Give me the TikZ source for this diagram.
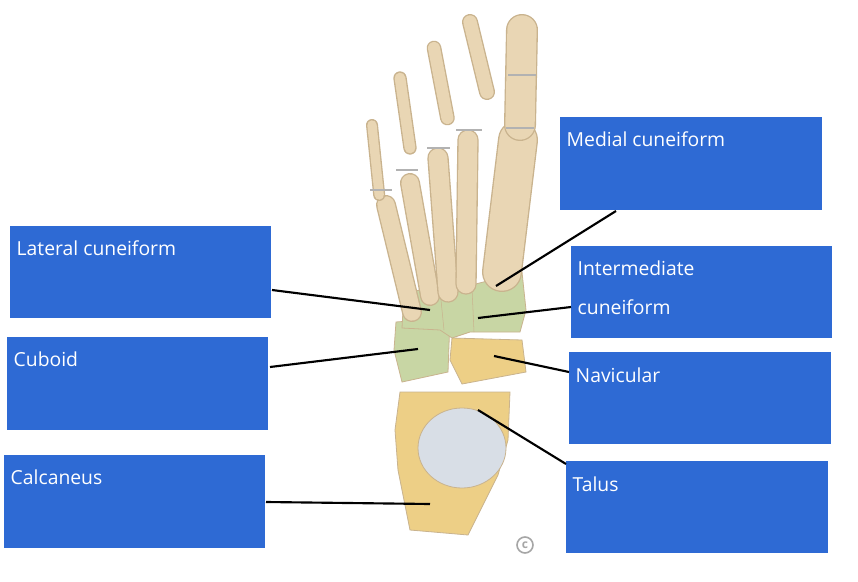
\documentclass[tikz,border=0pt]{standalone}
\usepackage{fontspec}
\setmainfont{Open Sans}
\begin{document}
\begin{tikzpicture}[x=0.75pt,y=-0.75pt,
  lbl/.style={fill=boxblue,draw=none},
  lt/.style={text=white,anchor=west,font=\fontsize{14.5}{16}\selectfont},
  ptr/.style={draw=black,line width=1.6pt},
  bone/.style={line cap=round,draw=boneout},
  bonefill/.style={draw=boneout,line width=0.6pt}]
\definecolor{boxblue}{HTML}{2E6AD4}
\definecolor{bonec}{HTML}{E9D6B4}
\definecolor{boneout}{HTML}{C9B38E}
\definecolor{greenb}{HTML}{C8D6A4}
\definecolor{yellowb}{HTML}{EDCF86}
\definecolor{talusc}{HTML}{D8DEE6}
\useasboundingbox (0,0) rectangle (858,582);
\fill[white] (0,0) rectangle (858,582);
% calcaneus
\filldraw[bonefill,fill=yellowb] (400,392) -- (510,392) -- (508,440) -- (498,475) -- (468,535) -- (410,530) -- (398,470) -- (395,430) -- cycle;
% talus
\filldraw[bonefill,fill=talusc] (462,448) ellipse (44 and 40);
% cuboid
\filldraw[bonefill,fill=greenb] (396,322) -- (450,318) -- (448,372) -- (402,382) -- (394,350) -- cycle;
% navicular
\filldraw[bonefill,fill=yellowb] (452,338) -- (522,340) -- (526,372) -- (462,384) -- (450,360) -- cycle;
% cuneiforms
\filldraw[bonefill,fill=greenb] (404,292) -- (440,288) -- (468,286) -- (522,272) -- (526,310) -- (520,332) -- (470,332) -- (452,338) -- (440,330) -- (402,328) -- cycle;
\draw[boneout] (440,290)--(444,330) (472,288)--(474,332);
% metatarsals
\draw[bone,line width=15pt] (386,205) -- (412,312);
\draw[bone,bonec,line width=13pt] (386,205) -- (412,312);
\draw[bone,line width=15pt] (410,183) -- (430,296);
\draw[bone,bonec,line width=13pt] (410,183) -- (430,296);
\draw[bone,line width=16pt] (438,158) -- (448,292);
\draw[bone,bonec,line width=14pt] (438,158) -- (448,292);
\draw[bone,line width=16pt] (468,140) -- (466,284);
\draw[bone,bonec,line width=14pt] (468,140) -- (466,284);
\draw[bone,line width=30pt] (518,140) -- (502,272);
\draw[bone,bonec,line width=28pt] (518,140) -- (502,272);
% phalanges
\foreach \a/\b/\w in {372/125/9, 400/78/10, 434/48/11, 470/22/12}{
  \draw[bone,line width=\w pt] (\a,\b) -- ({\a+(\a-360)*0.1+6},{\b+70});
  \draw[bone,bonec,line width=\w pt-2pt] (\a,\b) -- ({\a+(\a-360)*0.1+6},{\b+70});
}
\draw[bone,line width=24pt] (522,30) -- (520,125);
\draw[bone,bonec,line width=22pt] (522,30) -- (520,125);
\draw[gray!60,line width=1pt] (508,75)--(536,75) (506,128)--(534,128) (456,130)--(482,130) (427,148)--(450,148) (396,170)--(418,170) (370,190)--(392,190);
% copyright
\draw[gray!70,line width=1.2pt] (525,545) circle (8);
\node[gray!70,font=\bfseries\small] at (525,545) {c};
% boxes
\fill[lbl] (560,117) rectangle (822,210);
\fill[lbl] (10,226) rectangle (271,318);
\fill[lbl] (571,246) rectangle (832,338);
\fill[lbl] (7,337) rectangle (268,430);
\fill[lbl] (569,352) rectangle (831,444);
\fill[lbl] (4,455) rectangle (265,548);
\fill[lbl] (566,461) rectangle (828,553);
\node[lt] (m) at (562,139) {Medial cuneiform};
\node[lt] (l) at (12,248) {Lateral cuneiform};
\node[lt] (i) at (573,268) {Intermediate};
\node[lt] (i2) at (573,307) {cuneiform};
\node[lt] (c) at (9,359) {Cuboid};
\node[lt] (n) at (571,375) {Navicular};
\node[lt] (ca) at (6,477) {Calcaneus};
\node[lt] (t) at (568,484) {Talus};
% pointers
\coordinate (m1) at (616,211); \coordinate (m2) at (496,286);
\coordinate (l1) at (272,290); \coordinate (l2) at (430,310);
\coordinate (i1) at (571,307); \coordinate (i3) at (478,318);
\coordinate (c1) at (270,367); \coordinate (c2) at (418,349);
\coordinate (n1) at (569,372); \coordinate (n2) at (494,356);
\coordinate (t1) at (566,464); \coordinate (t2) at (478,410);
\coordinate (a1) at (266,502); \coordinate (a2) at (430,504);
\draw[ptr] (m1)--(m2); \draw[ptr] (l1)--(l2); \draw[ptr] (i1)--(i3);
\draw[ptr] (c1)--(c2); \draw[ptr] (n1)--(n2); \draw[ptr] (t1)--(t2);
\draw[ptr] (a1)--(a2);
\end{tikzpicture}
\end{document}
